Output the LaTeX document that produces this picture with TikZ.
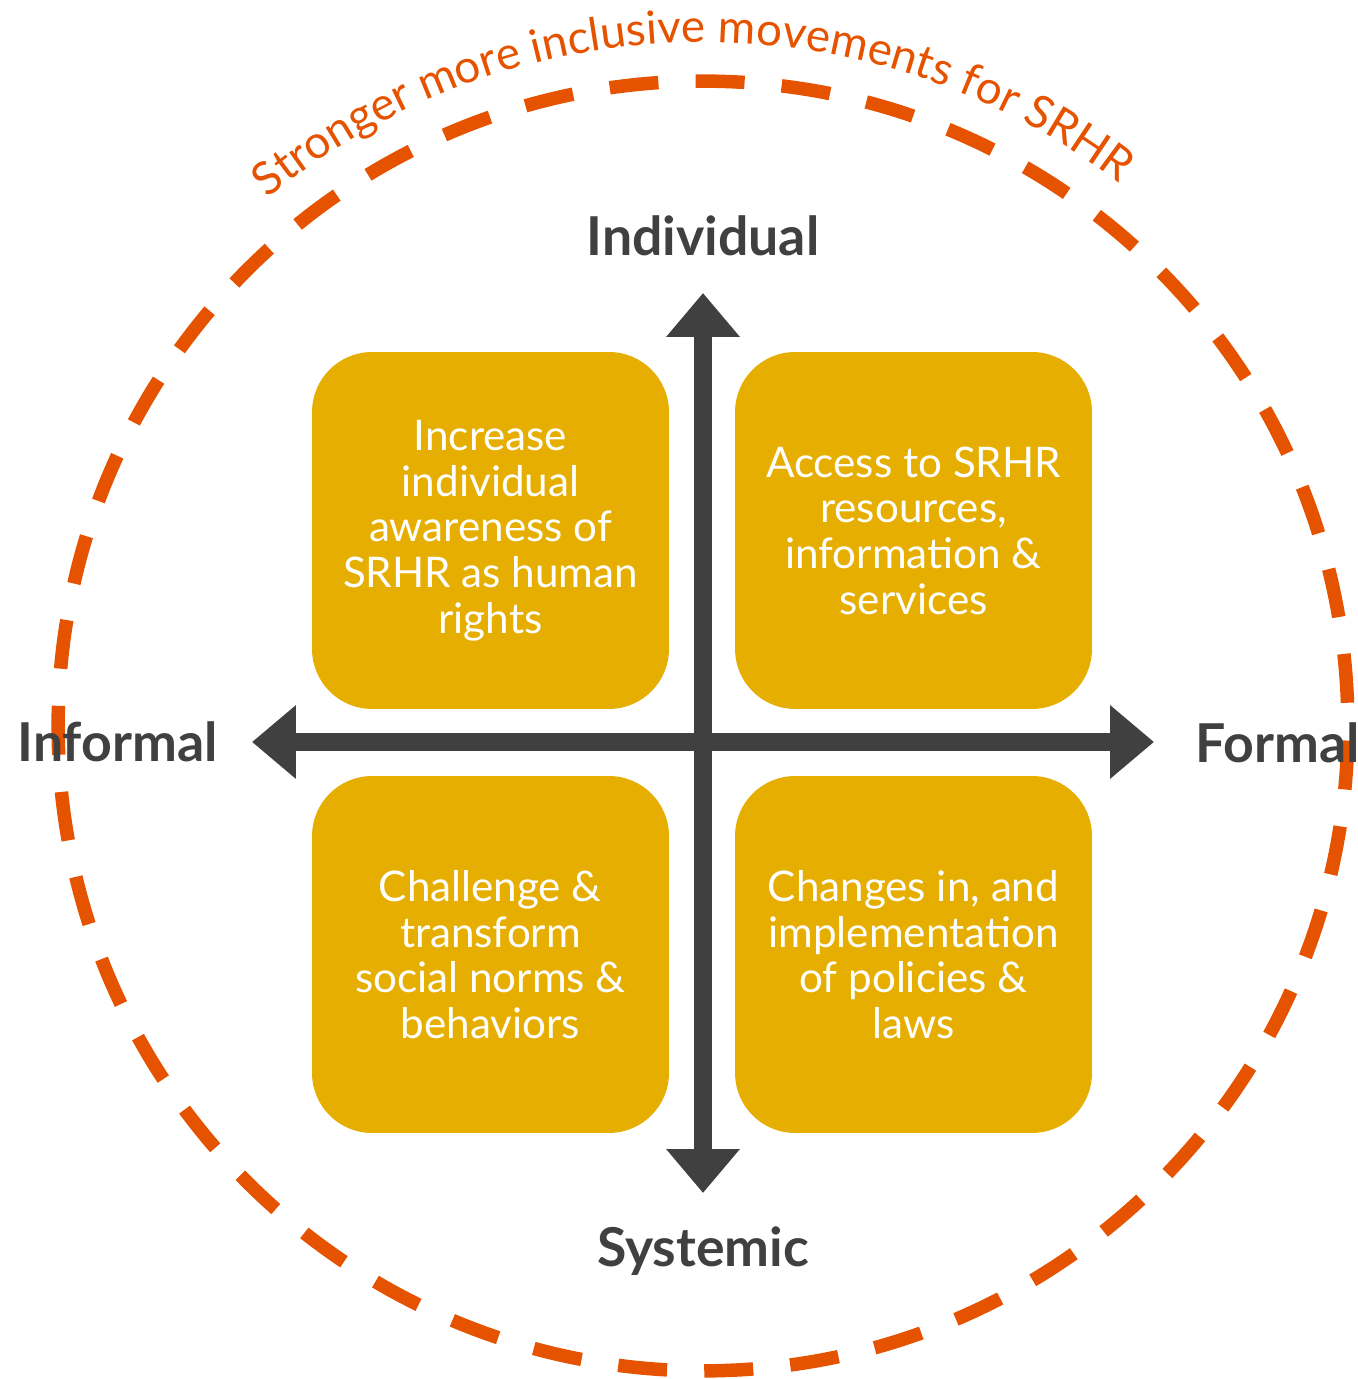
\documentclass[tikz,border=0pt]{standalone}
\usepackage{fontspec}
\setmainfont{Lato}
\usetikzlibrary{positioning,arrows.meta,decorations.text,calc}
\definecolor{srhrorange}{HTML}{E65300}
\definecolor{quadgold}{HTML}{E6AE00}
\definecolor{axisgray}{HTML}{404040}

\begin{document}
\begin{tikzpicture}[x=0.02cm,y=0.02cm]
% styles of this picture only
\tikzset{quad/.style={fill=quadgold, rounded corners=1.2cm, minimum width=7.14cm, minimum height=7.14cm, align=center, text=white, font=\fontsize{24}{26}\selectfont}}
\tikzset{axislabel/.style={text=axisgray, font=\bfseries\fontsize{30.5}{32}\selectfont, inner sep=0pt}}
\tikzset{axisline/.style={draw=axisgray, line width=0.36cm, {Triangle[length=0.88cm,width=1.42cm]}-{Triangle[length=0.88cm,width=1.42cm]}}}
\useasboundingbox (0,0) rectangle (1357,1379);

\coordinate (c) at (703,653);
\draw[srhrorange, line width=0.27cm, dash pattern=on 0.98cm off 0.74453cm, dash phase=1.26cm] (c) circle[radius=12.9cm];
\path[decorate, decoration={text along path, text align=center,
  text={|\fontsize{26}{27}\selectfont\color{srhrorange}|Stronger more inclusive movements for SRHR}}]
  ($(c)+(132:13.68cm)$) arc[start angle=132, end angle=50, radius=13.68cm];

\node[quad] (indinf) at (490.5,848.5) {Increase\\individual\\awareness of\\SRHR as human\\rights};
\node[quad] (indfor) at (913.5,848.5) {Access to SRHR\\resources,\\information \&\\services};
\node[quad] (sysinf) at (490.5,424.5) {Challenge \&\\transform\\social norms \&\\behaviors};
\node[quad] (sysfor) at (913.5,424.5) {Changes in, and\\implementation\\of policies \&\\laws};

\coordinate (up) at (703,1086);
\coordinate (down) at (703,186);
\coordinate (left) at (252,637);
\coordinate (right) at (1154,637);
\draw[axisline] (down) -- (up);
\draw[axisline] (left) -- (right);

\node[axislabel, anchor=base] (individual) at (703,1123) {Individual};
\node[axislabel, anchor=base] (systemic) at (703,112) {Systemic};
\node[axislabel, anchor=base] (informal) at (117.5,617) {Informal};
\node[axislabel, anchor=base west] (formal) at (1195,616) {Formal};
\end{tikzpicture}
\end{document}
